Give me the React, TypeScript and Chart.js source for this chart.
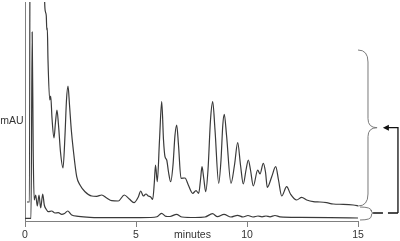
import React, { useEffect, useRef } from "react";
import { Chart, registerables } from "chart.js";

Chart.register(...registerables);

// Upper chromatogram (sample) — retention time in minutes, response in mAU (relative)
const UPPER_T = [
  0.09, 0.2, 0.25, 0.8, 0.887, 0.923, 0.959, 0.982, 1.005, 1.036, 1.113, 1.158, 1.216, 1.306, 1.374, 1.441,
  1.509, 1.599, 1.712, 1.802, 1.869, 1.937, 2.005, 2.086, 2.176, 2.329, 2.477, 2.703, 3.005, 3.23, 3.455,
  3.68, 3.905, 4.203, 4.473, 4.698, 4.91, 5.104, 5.212, 5.329, 5.45, 5.554, 5.662, 5.752, 5.824, 5.878,
  5.959, 6.059, 6.158, 6.239, 6.306, 6.383, 6.464, 6.563, 6.667, 6.757, 6.833, 6.914, 7.027, 7.207, 7.356,
  7.554, 7.703, 7.824, 7.905, 7.973, 8.05, 8.14, 8.243, 8.356, 8.455, 8.559, 8.725, 8.829, 8.91, 8.977,
  9.077, 9.279, 9.437, 9.581, 9.707, 9.833, 9.955, 10.059, 10.158, 10.284, 10.482, 10.586, 10.734, 10.833,
  10.914, 11.113, 11.293, 11.419, 11.563, 11.788, 11.959, 12.239, 12.464, 12.689, 12.986, 13.288, 13.59,
  13.887, 14.338, 14.788, 15.045,
];
const UPPER_V = [
  19, 19, 600, 330, 218, 209, 205, 191, 193, 161, 121, 125, 103, 83, 99, 111,
  96, 69, 53, 86, 121, 135, 116, 91, 71, 44.3, 36, 29.3, 25, 24.7, 26,
  23, 20.3, 20, 26, 22, 18.3, 24, 30, 25, 27, 25, 24, 21.7, 38, 56,
  39.3, 81, 119.3, 81, 64.3, 61, 49, 39.3, 56, 86, 96, 76, 42.7, 43, 36,
  27.7, 30.3, 27.7, 41, 54.3, 43, 29.3, 51, 101, 119.3, 91, 37.7, 61, 96, 106.7,
  86, 37.7, 56, 78.3, 56, 37, 51, 61, 51, 35, 51, 47, 57.7, 49,
  33.7, 44.3, 54.3, 41, 25, 34.3, 27, 21, 23.7, 21, 19.3, 19, 18.3,
  17, 16.7, 16, 15,
];

// Lower chromatogram (blank)
const LOWER_T = [
  0, 0.27, 0.324, 0.369, 0.414, 0.482, 0.554, 0.631, 0.707, 0.797, 0.869, 0.946, 1.05, 1.203, 1.351, 1.5,
  1.653, 1.779, 1.923, 2.104, 2.401, 2.928, 3.829, 4.73, 5.631, 5.946, 6.149, 6.351, 6.532, 6.824, 7.072,
  7.658, 8.108, 8.446, 8.671, 8.964, 9.279, 9.572, 9.82, 10.045, 10.27, 10.495, 10.676, 10.856, 11.036,
  11.261, 11.486, 12.387, 13.739, 15.045,
];
const LOWER_V = [
  2.7, 2.7, 189, 71, 21, 26, 15, 26, 13, 27, 16, 12, 9.3, 10, 8, 8.3,
  6.7, 7.5, 10, 6, 4.7, 3.7, 3.3, 3.3, 3.5, 4.3, 7.7, 4.7, 4.5, 6.7, 4,
  3.5, 4, 7.3, 4.3, 6.7, 4, 5.7, 4, 5.5, 4, 5, 4.2, 5, 4.2,
  5.5, 4.2, 3.7, 3.4, 3,
];

const MINUTE_TICKS = [0, 5, 10, 15];
const X_TITLE = "minutes";
const Y_TITLE = "mAU";

// Annotation: braces (time in minutes, response in mAU) and linking arrow
const BIG_BRACE = { start: 15.0, spine: 15.45, tip: 15.86, top: 171, bottom: 15, mid: 93.3 };
const SMALL_BRACE = { start: 15.09, spine: 15.6, tip: 15.68, top: 14, bottom: 1, mid: 8 };
const LINK_X = 16.8;
const ARROW_TIP = 16.12;

const FONT = "'Liberation Sans', Arial, sans-serif";

function drawBrace(ctx: CanvasRenderingContext2D, x: any, y: any, b: any, r: number, r2: number) {
  const xs = x.getPixelForValue(b.start);
  const xm = x.getPixelForValue(b.spine);
  const xt = x.getPixelForValue(b.tip);
  const yt = y.getPixelForValue(b.top);
  const yb = y.getPixelForValue(b.bottom);
  const ym = y.getPixelForValue(b.mid);
  ctx.beginPath();
  ctx.moveTo(xs, yt);
  ctx.quadraticCurveTo(xm, yt, xm, yt + r);
  ctx.lineTo(xm, ym - r2);
  ctx.quadraticCurveTo(xm, ym, xt, ym);
  ctx.quadraticCurveTo(xm, ym, xm, ym + r2);
  ctx.lineTo(xm, yb - r);
  ctx.quadraticCurveTo(xm, yb, xs, yb);
  ctx.stroke();
}

const annotationPlugin = {
  id: "chromAnnotations",
  afterDraw(chart: any) {
    const { ctx, scales, chartArea } = chart;
    const x = scales.x;
    const y = scales.y;
    ctx.save();
    // braces
    ctx.strokeStyle = "#7a7a7a";
    ctx.lineWidth = 1;
    drawBrace(ctx, x, y, BIG_BRACE, 12, 9);
    drawBrace(ctx, x, y, SMALL_BRACE, 4, 3);

    // link lines
    const lx = x.getPixelForValue(LINK_X);
    const yTop = y.getPixelForValue(BIG_BRACE.mid);
    const yBot = y.getPixelForValue(SMALL_BRACE.mid);
    const dashEnd = x.getPixelForValue(SMALL_BRACE.tip);
    ctx.strokeStyle = "#111";
    ctx.lineWidth = 1.3;
    ctx.beginPath();
    ctx.moveTo(lx, yBot);
    ctx.lineTo(lx, yTop);
    ctx.lineTo(x.getPixelForValue(ARROW_TIP) + 5, yTop);
    ctx.stroke();
    ctx.setLineDash([10, 5]);
    ctx.beginPath();
    ctx.moveTo(lx, yBot);
    ctx.lineTo(dashEnd, yBot);
    ctx.stroke();
    ctx.setLineDash([]);
    // arrow head
    const at = x.getPixelForValue(ARROW_TIP);
    ctx.fillStyle = "#111";
    ctx.beginPath();
    ctx.moveTo(at, yTop);
    ctx.lineTo(at + 6, yTop - 3);
    ctx.lineTo(at + 6, yTop + 3);
    ctx.closePath();
    ctx.fill();

    // titles
    ctx.fillStyle = "#333";
    ctx.font = `10.5px ${FONT}`;
    ctx.textAlign = "center";
    ctx.textBaseline = "middle";
    ctx.fillText(X_TITLE, (chartArea.left + chartArea.right) / 2 + 1, 235.5);
    ctx.fillText(Y_TITLE, 12, y.getPixelForValue(100));
    ctx.restore();
  },
};

export default function App() {
  const ref = useRef<HTMLCanvasElement | null>(null);
  useEffect(() => {
    if (!ref.current) return;
    const chart = new Chart(ref.current, {
      type: "line",
      data: {
        datasets: [
          {
            label: "sample",
            data: UPPER_T.map((t, i) => ({ x: t, y: UPPER_V[i] })),
            borderColor: "#3a3a3a",
            borderWidth: 1.2,
            pointRadius: 0,
            cubicInterpolationMode: "monotone",
            fill: false,
          },
          {
            label: "blank",
            data: LOWER_T.map((t, i) => ({ x: t, y: LOWER_V[i] })),
            borderColor: "#3a3a3a",
            borderWidth: 1.2,
            pointRadius: 0,
            cubicInterpolationMode: "monotone",
            fill: false,
          },
        ],
      },
      options: {
        animation: false,
        responsive: true,
        maintainAspectRatio: false,
        layout: { padding: { top: 2, right: 42, left: 0, bottom: 0 } },
        plugins: { legend: { display: false }, tooltip: { enabled: false } },
        scales: {
          x: {
            type: "linear",
            min: 0,
            max: 15,
            afterBuildTicks: (s: any) => {
              s.ticks = MINUTE_TICKS.map((v) => ({ value: v }));
            },
            afterFit: (s: any) => {
              s.height = 20;
            },
            ticks: {
              autoSkip: false,
              maxRotation: 0,
              padding: 2,
              color: "#333",
              font: { family: FONT, size: 10.5 },
            },
            grid: {
              drawOnChartArea: false,
              drawTicks: true,
              tickLength: 6,
              color: "#808080",
            },
            border: { display: true, color: "#808080", width: 1 },
          },
          y: {
            type: "linear",
            min: 0,
            max: 219,
            ticks: { display: false },
            grid: { display: false },
            border: { display: true, color: "#808080", width: 1 },
            afterFit: (s: any) => {
              s.width = 25;
            },
          },
        },
      },
      plugins: [annotationPlugin],
    });
    return () => chart.destroy();
  }, []);
  return (
    <div style={{ position: "fixed", left: 0, top: 0, width: 400, height: 241, background: "#fff" }}>
      <canvas ref={ref} />
    </div>
  );
}
